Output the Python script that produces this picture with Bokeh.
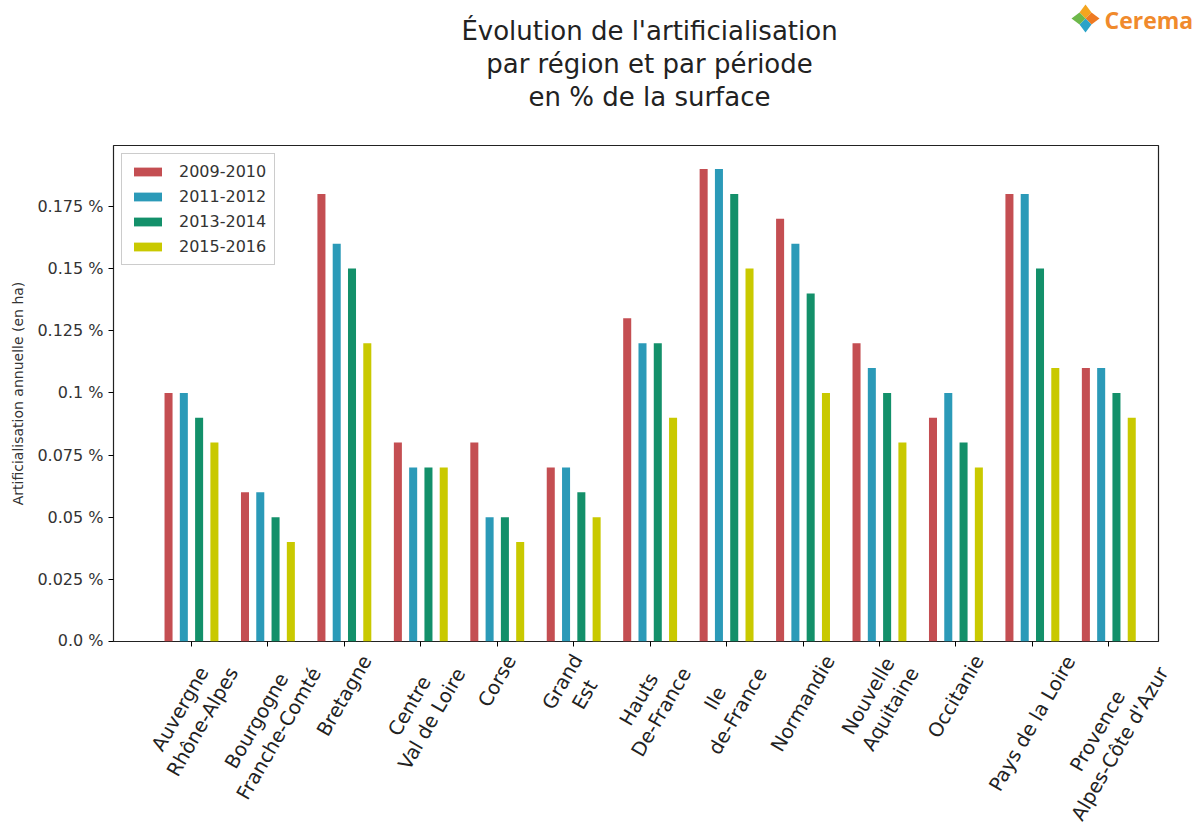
from bokeh.plotting import figure
from bokeh.layouts import column, row
from bokeh.models import FixedTicker, Range1d, Legend, LegendItem, ColumnDataSource
from bokeh.core.properties import value
from bokeh.embed import file_html
from bokeh.resources import INLINE
import math

regions = ["Auvergne\nRhône-Alpes", "Bourgogne\nFranche-Comté", "Bretagne", "Centre\nVal de Loire",
           "Corse", "Grand\nEst", "Hauts\nDe-France", "Ile\nde-France", "Normandie",
           "Nouvelle\nAquitaine", "Occitanie", "Pays de la Loire", "Provence\nAlpes-Côte d'Azur"]
periods = ["2009-2010", "2011-2012", "2013-2014", "2015-2016"]
v2009_2010 = [0.10, 0.06, 0.18, 0.08, 0.08, 0.07, 0.13, 0.19, 0.17, 0.12, 0.09, 0.18, 0.11]
v2011_2012 = [0.10, 0.06, 0.16, 0.07, 0.05, 0.07, 0.12, 0.19, 0.16, 0.11, 0.10, 0.18, 0.11]
v2013_2014 = [0.09, 0.05, 0.15, 0.07, 0.05, 0.06, 0.12, 0.18, 0.14, 0.10, 0.08, 0.15, 0.10]
v2015_2016 = [0.08, 0.04, 0.12, 0.07, 0.04, 0.05, 0.09, 0.15, 0.10, 0.08, 0.07, 0.11, 0.09]
series = [v2009_2010, v2011_2012, v2013_2014, v2015_2016]
colors = ["#c44e52", "#2b9ab8", "#13906a", "#c9c900"]
y_ticks = [0.0, 0.025, 0.05, 0.075, 0.1, 0.125, 0.15, 0.175]
y_tick_labels = ["0.0 %", "0.025 %", "0.05 %", "0.075 %", "0.1 %", "0.125 %", "0.15 %", "0.175 %"]
title_lines = ["Évolution de l'artificialisation", "par région et par période", "en % de la surface"]
logo_text = "Cerema"

FONT = "DejaVu Sans"
W = 1197
HEADER_H = 140
MAIN_H = 509
LABEL_H = 827 - HEADER_H - MAIN_H
FRAME_L, FRAME_R = 113, 1158
X0, X1 = -1.02, 12.65
XLAB_FS = 19.5
LINE_H = 1.12

# approximate DejaVu Sans advance widths (em/2048) to centre rotated label boxes like matplotlib
_adv = {" ": 651, "'": 563, "-": 739, "A": 1401, "B": 1405, "C": 1430, "D": 1577, "E": 1294,
        "F": 1178, "G": 1587, "H": 1540, "I": 604, "L": 1141, "N": 1532, "O": 1612, "P": 1235,
        "R": 1423, "V": 1401, "a": 1255, "b": 1300, "c": 1126, "d": 1300, "e": 1260, "é": 1260,
        "f": 721, "g": 1300, "h": 1298, "i": 569, "l": 569, "m": 1995, "n": 1298, "o": 1253,
        "ô": 1253, "p": 1300, "q": 1300, "r": 842, "s": 1067, "t": 803, "u": 1298, "v": 1212,
        "y": 1212, "z": 1075}


def text_w(s, fs):
    return sum(_adv.get(ch, 1200) for ch in s) / 2048 * fs


# ---------- header (title + logo) ----------
h = figure(width=W, height=HEADER_H, output_backend="svg", toolbar_location=None,
           x_range=Range1d(0, W), y_range=Range1d(HEADER_H, 0),
           x_axis_type=None, y_axis_type=None, min_border=0,
           min_border_left=0, min_border_right=0, min_border_top=0, min_border_bottom=0)
h.outline_line_color = None
h.xgrid.visible = False
h.ygrid.visible = False
h.background_fill_color = "white"
h.border_fill_color = "white"
h.text(x=[649] * 3, y=[30, 63, 96], text=title_lines, text_font=value(FONT), text_font_size="26px",
       text_color="#222222", text_align="center", text_baseline="middle")
h.text(x=[1104], y=[19], text=[logo_text], text_font=value("Open Sans"), text_font_size="23px",
       text_font_style="bold", text_color="#f08a2c", text_align="left", text_baseline="middle")
cx, cy = 1085, 18
h.patches(xs=[[cx, cx - 6, cx, cx + 6], [cx, cx + 6, cx + 14, cx + 6],
              [cx, cx + 6, cx, cx - 6], [cx, cx - 6, cx - 14, cx - 6]],
          ys=[[cy, cy - 6, cy - 14, cy - 6], [cy, cy - 6, cy, cy + 6],
              [cy, cy + 6, cy + 14, cy + 6], [cy, cy + 6, cy, cy - 6]],
          fill_color=["#f4a51f", "#ee7a22", "#2aa3c9", "#6db84a"], line_color=None)

# ---------- main chart ----------
p = figure(width=W, height=MAIN_H, output_backend="svg", toolbar_location=None,
           x_range=Range1d(X0, X1), y_range=Range1d(0, 0.1995),
           min_border_left=FRAME_L, min_border_right=W - FRAME_R,
           min_border_top=145 - HEADER_H, min_border_bottom=8)
p.background_fill_color = "white"
p.border_fill_color = "white"
p.outline_line_color = "#222222"
p.outline_line_width = 1.2
p.xgrid.visible = False
p.ygrid.visible = False

offsets = [-0.3, -0.1, 0.1, 0.3]
items = []
idx = list(range(len(regions)))
for s, off, c, name in zip(series, offsets, colors, periods):
    src = ColumnDataSource(dict(x=[i + off for i in idx], top=s))
    r = p.vbar(x="x", top="top", bottom=0, width=0.105, source=src, fill_color=c, line_color=None)
    items.append(LegendItem(label=name, renderers=[r]))

legend = Legend(items=items, location="top_left", label_text_font=FONT, label_text_font_size="16px",
                label_text_color="#333333", border_line_color="#cccccc", border_line_alpha=1.0,
                glyph_width=35, glyph_height=11, label_standoff=14, spacing=6,
                padding=8, margin=8, background_fill_alpha=1.0, label_height=19)
p.add_layout(legend)

p.xaxis.ticker = FixedTicker(ticks=idx)
p.xaxis.major_label_overrides = {i: "" for i in idx}
p.xaxis.major_label_text_font_size = "1px"
p.xaxis.major_label_standoff = 0
p.xaxis.minor_tick_line_color = None
p.xaxis.axis_line_color = None
p.xaxis.major_tick_in = 0
p.xaxis.major_tick_out = 5

p.yaxis.ticker = FixedTicker(ticks=y_ticks)
p.yaxis.major_label_overrides = {t: l for t, l in zip(y_ticks, y_tick_labels)}
p.yaxis.major_label_text_font = FONT
p.yaxis.major_label_text_font_size = "16px"
p.yaxis.major_label_text_color = "#333333"
p.yaxis.minor_tick_line_color = None
p.yaxis.axis_line_color = None
p.yaxis.major_tick_in = 0
p.yaxis.major_tick_out = 5
p.yaxis.axis_label = "Artificialisation annuelle (en ha)"
p.yaxis.axis_label_text_font = FONT
p.yaxis.axis_label_text_font_size = "14px"
p.yaxis.axis_label_text_font_style = "normal"
p.yaxis.axis_label_text_color = "#333333"
p.yaxis.axis_label_standoff = 8

# ---------- rotated category labels (bounding box centred under each tick) ----------
# full-width frame with the same x scale as the chart so labels are not clipped at the frame edge
k = (X1 - X0) / (FRAME_R - FRAME_L)
lab = figure(width=W, height=LABEL_H, output_backend="svg", toolbar_location=None,
             x_range=Range1d(X0 - FRAME_L * k, X1 + (W - FRAME_R) * k), y_range=Range1d(LABEL_H, 0),
             x_axis_type=None, y_axis_type=None, min_border=0,
             min_border_left=0, min_border_right=0, min_border_top=0, min_border_bottom=0)
lab.outline_line_color = None
lab.xgrid.visible = False
lab.ygrid.visible = False
lab.background_fill_color = "white"
lab.border_fill_color = "white"
ang = math.pi / 3
top_pad = 2
centers = []
for r_ in regions:
    lines = r_.split("\n")
    wmax = max(text_w(l, XLAB_FS) for l in lines)
    hblk = len(lines) * XLAB_FS * LINE_H
    bbox_h = wmax * math.sin(ang) + hblk * math.cos(ang)
    centers.append(top_pad + bbox_h / 2)
lab.text(x=idx, y=centers, text=regions, angle=ang, text_font=value(FONT), text_font_size=f"{XLAB_FS}px",
         text_color="#222222", text_align="center", text_baseline="middle", text_line_height=LINE_H)

layout = column(row(h), p, row(lab), spacing=0)
open("out.html", "w").write(file_html(layout, INLINE))
